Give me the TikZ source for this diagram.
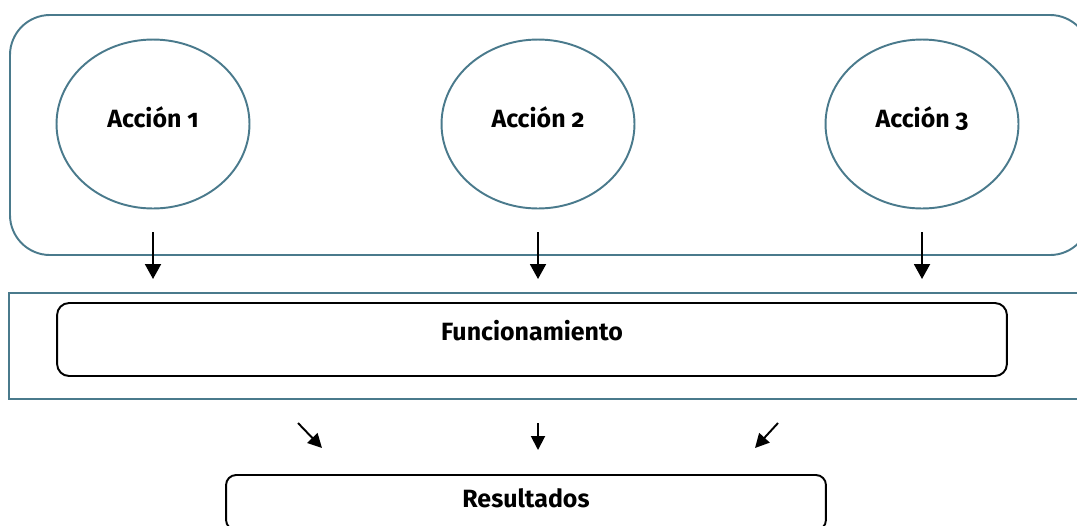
\documentclass[tikz,border=0pt]{standalone}
\usepackage{fontspec}
\setmainfont{Fira Sans}[Numbers=OldStyle]
\usetikzlibrary{shapes.geometric,arrows.meta}

\definecolor{tealline}{RGB}{74,122,140}

\tikzset{
  accion/.style={ellipse, draw=tealline, line width=1.1pt,
    minimum width=3.86cm, minimum height=3.38cm, text depth=7.5pt,
    font=\bfseries\fontsize{14.2}{17}\selectfont},
  caja/.style={draw, rounded corners=0.24cm, line width=1.1pt,
    font=\bfseries\fontsize{14.2}{17}\selectfont},
  flecha/.style={line width=1.1pt, -{Triangle[length=0.3cm,width=0.32cm]}},
  flechita/.style={line width=1.1pt, -{Triangle[length=0.28cm,width=0.28cm]}}
}

\begin{document}
\begin{tikzpicture}[x=0.02cm, y=-0.02cm]
    \clip (0,0) rectangle (1077,525);

    % acciones
    \draw[tealline, line width=1.1pt, rounded corners=0.8cm] (10,15) rectangle (1090,255);
    \foreach \i/\x in {1/153,2/538,3/922} {
      \node[accion] (a\i) at (\x,124) {Acción \i};
      \coordinate (s\i) at (\x,232);
      \coordinate (e\i) at (\x,279);
      \draw[flecha] (s\i) -- (e\i);
    }

    % funcionamiento
    \draw[tealline, line width=1.1pt] (9,293) rectangle (1090,399);
    \node[caja, minimum width=19cm, minimum height=1.46cm, text depth=10pt] (func) at (532,339.5) {Funcionamiento};

    % resultados
    \coordinate (r1) at (298,423);
    \coordinate (q1) at (322,448);
    \coordinate (r2) at (538,423);
    \coordinate (q2) at (538,450);
    \coordinate (r3) at (778,423);
    \coordinate (q3) at (755,448);
    \foreach \i in {1,2,3}
    \draw[flechita] (r\i) -- (q\i);
    \node[caja, rounded corners=0.2cm, minimum width=12cm, minimum height=1.1cm, text depth=5pt] (res) at (526,502.5) {Resultados};
\end{tikzpicture}
\end{document}
